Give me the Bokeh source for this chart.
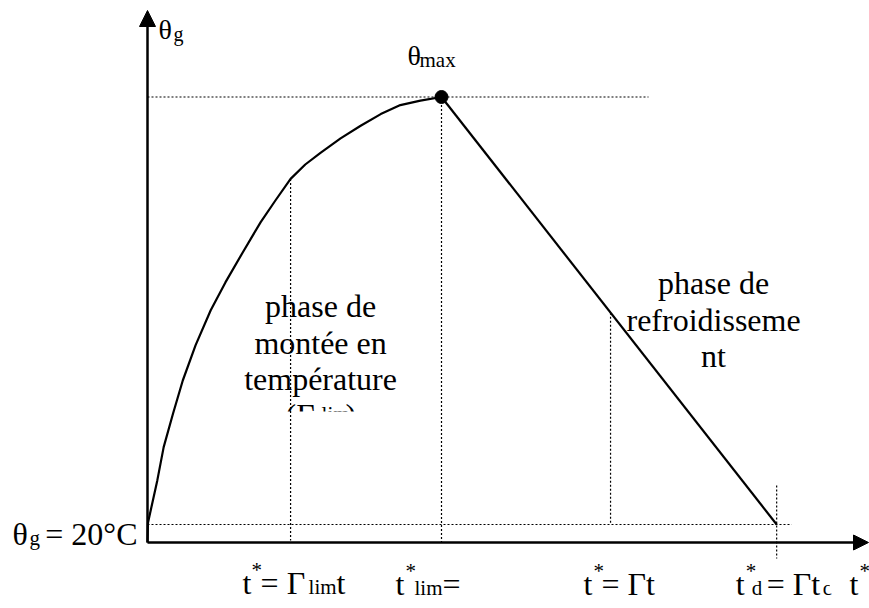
import numpy as np
from bokeh.plotting import figure
from bokeh.models import Range1d, Arrow, NormalHead
from bokeh.core.properties import value
from bokeh.embed import file_html
from bokeh.resources import INLINE

# ---------------- data ----------------
# heating phase: reduced time t* (arbitrary units) and gas temperature (°C)
t_heat = [0.0, 0.1, 2.0, 3.3, 5.2, 7.2, 9.8, 12.9, 15.9, 19.4, 23.1, 26.1, 29.2,
          32.2, 35.3, 39.4, 43.5, 47.6, 51.6, 55.7, 60.0]
theta_heat = [0, 22, 69, 106, 143, 180, 219, 258, 289, 322, 356, 380, 404,
              420, 433, 449, 463, 476, 486, 491, 495]
t_lim = 60.0          # t*_lim
theta_max = 495.0     # θmax
theta_amb = 20.0      # θg = 20°C
t_a = 29.2            # t* = Γlim t
t_b = 94.5            # t* = Γ t
t_d = 128.4           # t*_d = Γ t_d
# cooling phase
t_cool = [t_lim, t_d]
theta_cool = [theta_max, theta_amb]

# ---------------- layout ----------------
W, H = 869, 608
PX_T = 4.9      # pixels per time unit
PX_TH = 0.9     # pixels per °C
OX, OY = 147, 542   # frame pixel of the origin

p = figure(width=W, height=H,
           x_range=Range1d(-OX / PX_T, (W - OX) / PX_T),
           y_range=Range1d(-(H - OY) / PX_TH, OY / PX_TH),
           output_backend="svg", toolbar_location=None, min_border=0,
           x_axis_location=None, y_axis_location=None)
p.grid.visible = False
p.outline_line_color = None
p.background_fill_color = "white"
p.border_fill_color = "white"


def at(t, th, dx, dy):
    """data point offset by dx, dy screen pixels (dy positive = down)"""
    return t + dx / PX_T, th - dy / PX_TH


FONT = value("Liberation Serif")

# ---------------- text segments ----------------
segs = []


def seg(anchor, dx, dy, text, size, align="left"):
    x, y = at(anchor[0], anchor[1], dx, dy)
    segs.append((x, y, text, size, align))


O = (0.0, 0.0)
# θg at top of vertical axis
seg(O, 11, -513, "θ", 28)
seg(O, 26, -509, "g", 20)
# θmax
M = (t_lim, theta_max)
seg(M, -34, -41.5, "θ", 28)
seg(M, -22, -37.5, "max", 21)
# θg = 20°C
A = (0.0, theta_amb)
seg(A, -135, 9, "θ", 32)
seg(A, -118, 13, "g", 21)
seg(A, -10, 9, "= 20°C", 32, "right")
# t* = Γlim t
D = (t_a, 0.0)
seg(D, -48, 40, "t", 32)
seg(D, -39, 27, "*", 21)
seg(D, -30, 40, "= Γ", 32)
seg(D, 18, 44, "lim", 21)
seg(D, 46, 40, "t", 32)
# t*lim = Γlim t  (second line cut by the bottom edge)
E = (t_lim, 0.0)
seg(E, -46, 41, "t", 32)
seg(E, -36, 28, "*", 21)
seg(E, -27, 45, "lim", 21)
seg(E, 1, 41, "=", 32)
seg(E, -46, 79, "Γ", 32)
seg(E, -27, 83, "lim", 21)
seg(E, 8, 79, "t", 32)
# t* = Γt
F = (t_b, theta_amb)
seg(F, -27, 59, "t", 32)
seg(F, -17, 46, "*", 21)
seg(F, -9, 59, "= Γt", 32)
# t*d = Γtd
G = (t_d, 0.0)
seg(G, -41, 41, "t", 32)
seg(G, -31, 28, "*", 21)
seg(G, -25, 45, "d", 21)
seg(G, -10, 41, "= Γt", 32)
seg(G, 46, 45, "c", 21)
# axis title t*
seg(O, 702, 41, "t", 32)
seg(O, 712, 28, "*", 21)
# phase de montée en température (Γlim)
seg(D, 30, -237, "phase de", 32, "center")
seg(D, 30, -200, "montée en", 32, "center")
seg(D, 30, -164, "température", 32, "center")
seg(D, -5, -128, "(Γ", 32)
seg(D, 31, -129, "lim", 21)
seg(D, 55, -128, ")", 32)
# phase de refroidissement
seg(F, 103, -242, "phase de", 32, "center")
seg(F, 103, -205, "refroidisseme", 32, "center")
seg(F, 103, -169, "nt", 32, "center")

groups = {}
for x, y, txt, size, align in segs:
    groups.setdefault((size, align), ([], [], []))
    g = groups[(size, align)]
    g[0].append(x); g[1].append(y); g[2].append(txt)
for (size, align), (xs, ys, ts) in groups.items():
    p.text(x=xs, y=ys, text=ts, text_font=FONT, text_font_size=value(f"{size}px"),
           text_align=align, text_baseline="alphabetic", text_color="black")

# clipping of text boxes (white covers)
cov = [at(t_a, 0.0, -10, -131), at(t_a, 0.0, 70, -95),
       at(t_d, 0.0, 53, 12), at(t_d, 0.0, 60, 50)]
p.quad(left=[cov[0][0], cov[2][0]], right=[cov[1][0], cov[3][0]],
       top=[cov[0][1], cov[2][1]], bottom=[cov[1][1], cov[3][1]],
       fill_color="white", line_color=None)

# ---------------- dotted guide lines ----------------
theta_a = float(np.interp(t_a, t_heat, theta_heat))
theta_b = float(np.interp(t_b, t_cool, theta_cool))
x0 = [0.0, 0.0, t_a, t_lim, t_b, t_d]
y0 = [theta_max, theta_amb, theta_a, theta_max, theta_b, at(t_d, theta_amb, 0, -39)[1]]
x1 = [at(t_lim, theta_max, 207, 0)[0], at(t_d, theta_amb, 15, 0)[0], t_a, t_lim, t_b, t_d]
y1 = [theta_max, theta_amb, at(t_a, 0, 0, -2)[1], 0.0, theta_amb, at(t_d, 0, 0, 16)[1]]
p.segment(x0=x0, y0=y0, x1=x1, y1=y1, line_color="black", line_width=1.2, line_dash="2 2")

# ---------------- curves ----------------
p.line(t_heat, theta_heat, line_color="black", line_width=2.2, line_join="round")
p.line(t_cool, theta_cool, line_color="black", line_width=2.2)
p.scatter([t_lim], [theta_max], size=13, color="black")

# ---------------- axes with arrow heads ----------------
y_top = at(0, 0, 0, -532)[1]
x_end = at(0, 0, 721, 0)[0]
p.add_layout(Arrow(x_start=0, y_start=0, x_end=0, y_end=y_top, line_width=2.5, line_color="black",
                   end=NormalHead(size=16, fill_color="black", line_color="black", line_width=1)))
p.add_layout(Arrow(x_start=0, y_start=0, x_end=x_end, y_end=0, line_width=2.5, line_color="black",
                   end=NormalHead(size=15, fill_color="black", line_color="black", line_width=1)))

open("out.html", "w").write(file_html(p, INLINE))
